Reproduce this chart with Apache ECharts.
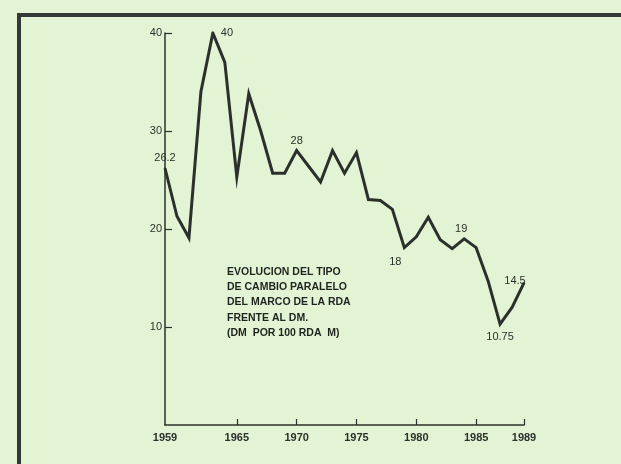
<!DOCTYPE html>
<html>
<head>
<meta charset="utf-8">
<script src="https://cdn.jsdelivr.net/npm/echarts@6/dist/echarts.min.js"></script>
<style>
html,body{margin:0;padding:0;background:#e3f4d4;}
#chart{width:621px;height:464px;}
</style>
</head>
<body>
<div id="chart"></div>
<script>
// Years on the x axis
var years = [1959,1960,1961,1962,1963,1964,1965,1966,1967,1968,1969,1970,1971,1972,1973,1974,1975,1976,1977,1978,1979,1980,1981,1982,1983,1984,1985,1986,1987,1988,1989];
// Parallel exchange rate (DM per 100 RDA M)
var rates = [26.2,21.3,19.1,34,40,37,25.3,33.8,30,25.7,25.7,28,26.4,24.8,28,25.7,27.8,23.0,22.9,22.0,18.1,19.2,21.2,18.9,18.0,19.0,18.1,14.7,10.3,12.0,14.5];
// Labelled x ticks
var xTickYears = [1959,1965,1970,1975,1980,1985,1989];
// Y ticks
var yTicks = [10,20,30,40];
// Annotated points
var noteYears = [1959,1963,1970,1979,1984,1987,1989];
var noteTexts = ['26.2','40','28','18','19','10.75','14.5'];
// Caption lines
var captionLines = ['EVOLUCION DEL TIPO','DE CAMBIO PARALELO','DEL MARCO DE LA RDA','FRENTE AL DM.','(DM  POR 100 RDA  M)'];

var ink = '#2c302c';
var font = '"Liberation Sans", Arial, sans-serif';

// label placement per annotated year (style only)
var notePlacement = {
  1959: {position:'top', distance:4, offset:[0,0]},
  1963: {position:'right', distance:7, offset:[0,0]},
  1970: {position:'top', distance:3, offset:[0,0]},
  1979: {position:'bottom', distance:8, offset:[-9,0]},
  1984: {position:'top', distance:3, offset:[-3,0]},
  1987: {position:'bottom', distance:6, offset:[0,0]},
  1989: {position:'inside', distance:0, offset:[-9,-2]}
};

var seriesData = rates.map(function(v, i){
  var y = years[i];
  var k = noteYears.indexOf(y);
  var item = {value: v};
  if (k >= 0) {
    var p = notePlacement[y];
    item.label = {
      show: true, formatter: noteTexts[k], position: p.position,
      distance: p.distance, offset: p.offset,
      color: ink, fontSize: 11, fontFamily: font
    };
  }
  return item;
});

var chart = echarts.init(document.getElementById('chart'));
chart.setOption({
  backgroundColor: '#e3f4d4',
  animation: false,
  grid: {left: 165, right: 97, top: 33, bottom: 39},
  xAxis: {
    type: 'category',
    data: years.map(String),
    boundaryGap: false,
    axisLine: {show: true, lineStyle: {color: ink, width: 1.5}},
    axisTick: {
      show: true, inside: true, length: 6,
      interval: function(i, v){ return xTickYears.indexOf(+v) >= 0 && +v !== 1959; },
      lineStyle: {color: ink, width: 1.2}
    },
    axisLabel: {
      interval: function(i, v){ return xTickYears.indexOf(+v) >= 0; },
      color: ink, fontSize: 11, fontWeight: 'bold', fontFamily: font, margin: 7
    },
    splitLine: {show: false}
  },
  yAxis: {
    type: 'value', min: 0, max: 40, interval: 10,
    axisLine: {show: true, lineStyle: {color: ink, width: 1.5}},
    axisTick: {show: true, inside: true, length: 7, lineStyle: {color: ink, width: 1.2}},
    axisLabel: {
      showMinLabel: false,
      formatter: function(v){ return yTicks.indexOf(v) >= 0 ? String(v) : ''; },
      color: ink, fontSize: 11, fontFamily: font, margin: 3
    },
    splitLine: {show: false}
  },
  series: [{
    type: 'line',
    data: seriesData,
    showSymbol: true,
    symbol: 'circle',
    symbolSize: 2,
    itemStyle: {color: ink},
    lineStyle: {color: ink, width: 3, join: 'miter'},
    silent: true
  }],
  graphic: [
    {
      type: 'rect', silent: true,
      shape: {x: 19, y: 15, width: 700, height: 600},
      style: {fill: 'none', stroke: '#353935', lineWidth: 4}
    },
    {
      type: 'text', left: 227, top: 264, silent: true,
      style: {
        text: captionLines.join('\n'),
        fill: '#1f231f', font: 'bold 10.5px ' + font,
        lineHeight: 15.4
      }
    }
  ]
});
</script>
</body>
</html>
